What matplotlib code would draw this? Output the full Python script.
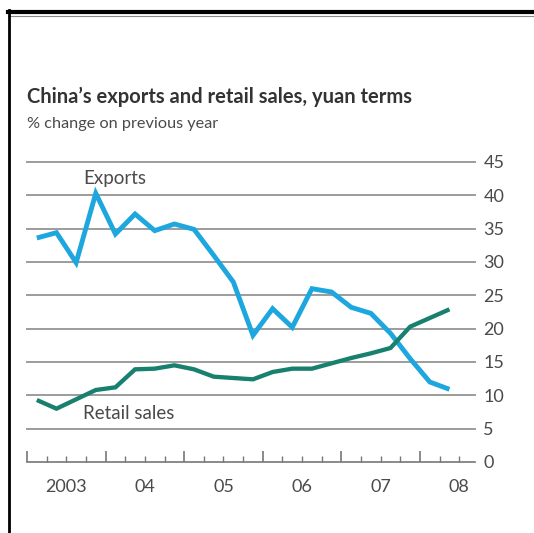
from matplotlib import pyplot as plt
from matplotlib.lines import Line2D
from matplotlib.ticker import FixedLocator
import matplotlib
import numpy as np

matplotlib.rcParams['font.family'] = ['Lato', 'DejaVu Sans']

# quarterly readings, 2003 Q1 .. 2008 Q2
years = [2003, 2004, 2005, 2006, 2007, 2008]
year_labels = ['2003', '04', '05', '06', '07', '08']
exports = [33.6, 34.4, 29.9, 40.3, 34.2, 37.2, 34.7, 35.7, 34.9, 31.0, 27.0,
           19.0, 23.0, 20.2, 26.0, 25.5, 23.2, 22.3, 19.3, 15.5, 12.0, 10.9]
retail_sales = [9.3, 8.0, 9.4, 10.8, 11.2, 13.9, 14.0, 14.5, 13.9, 12.8, 12.6,
                12.4, 13.5, 14.0, 14.0, 14.8, 15.6, 16.3, 17.1, 20.3, 21.6, 22.9]
y_ticks = [0, 5, 10, 15, 20, 25, 30, 35, 40, 45]

EXPORT_BLUE = '#1ea7de'
RETAIL_GREEN = '#17806f'
GRID_GREY = '#9c9c9c'
TEXT_GREY = '#4a4a4a'

x = 2003 + (np.arange(len(exports)) + 0.5) / 4.0

fig = plt.figure(figsize=(5.34, 5.33), dpi=100)
ax = fig.add_axes([27 / 534, 1 - 462 / 533, 448 / 534, 300 / 533])

ax.plot(x, exports, color=EXPORT_BLUE, lw=3.5, solid_joinstyle='miter',
        solid_capstyle='butt', zorder=3)
ax.plot(x, retail_sales, color=RETAIL_GREEN, lw=3.1, solid_joinstyle='miter',
        solid_capstyle='butt', zorder=3)

ax.set_xlim(2003, 2008.7)
ax.set_ylim(0, 45)

for v in y_ticks[1:]:
    ax.axhline(v, color=GRID_GREY, lw=1.4, zorder=1, clip_on=False)

for side in ['left', 'right', 'top']:
    ax.spines[side].set_visible(False)
ax.spines['bottom'].set_color('#777777')
ax.spines['bottom'].set_linewidth(1.2)

ax.yaxis.tick_right()
ax.set_yticks(y_ticks)
ax.tick_params(axis='y', length=0, pad=6, labelsize=13, labelcolor=TEXT_GREY)

ax.xaxis.set_major_locator(FixedLocator(years))
ax.xaxis.set_minor_locator(FixedLocator(np.arange(2003, 2008.6, 0.25)))
ax.tick_params(axis='x', which='major', direction='in', length=8, width=1.2,
               color='#777777', labelbottom=False)
ax.tick_params(axis='x', which='minor', direction='in', length=4, width=1.0,
               color='#777777')
for yr, lab in zip(years, year_labels):
    ax.text(yr + 0.5, -2.6, lab, ha='center', va='top', fontsize=13,
            color=TEXT_GREY)

ax.text(2004.12, 42.5, 'Exports', ha='center', va='center', fontsize=13.5,
        color=TEXT_GREY)
ax.text(2004.29, 7.3, 'Retail sales', ha='center', va='center', fontsize=13.5,
        color=TEXT_GREY)

fig.text(27 / 534, 1 - 97 / 533, 'China\u2019s exports and retail sales, yuan terms',
         ha='left', va='center', fontsize=14.5, fontweight='bold', color='#333333')
fig.text(27 / 534, 1 - 124 / 533, '% change on previous year',
         ha='left', va='center', fontsize=11.7, color=TEXT_GREY)

# page frame: heavy rule on top, thin rule down the left
fig.add_artist(Line2D([8 / 534, 1], [1 - 12 / 533, 1 - 12 / 533],
                      transform=fig.transFigure, color='black', lw=3))
fig.add_artist(Line2D([8 / 534, 1], [1 - 15.5 / 533, 1 - 15.5 / 533],
                      transform=fig.transFigure, color='#888888', lw=0.8))
fig.add_artist(Line2D([9 / 534, 9 / 534], [0, 1 - 10 / 533],
                      transform=fig.transFigure, color='black', lw=2))

fig.savefig('out.png', dpi=100)
